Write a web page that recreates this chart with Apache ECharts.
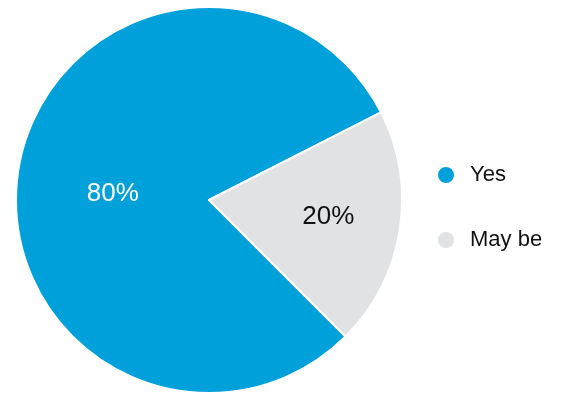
<!DOCTYPE html>
<html>
<head>
<meta charset="utf-8">
<script src="https://cdn.jsdelivr.net/npm/echarts@6/dist/echarts.min.js"></script>
<style>
html,body{margin:0;padding:0;background:#fff;}
#chart{width:561px;height:404px;}
</style>
</head>
<body>
<div id="chart"></div>
<script>
const categories = ['Yes', 'May be'];
const values = [80, 20];
const colors = ['#00a0da', '#e1e2e3'];
const labelColors = ['#ffffff', '#111111'];
const labelOffsets = [[2, 9], [21, 1]];

const chart = echarts.init(document.getElementById('chart'), null, {renderer: 'canvas'});
const data = categories.map((name, i) => ({
  name: name,
  value: values[i],
  itemStyle: {color: colors[i]},
  label: {color: labelColors[i], offset: labelOffsets[i]}
}));

chart.setOption({
  animation: false,
  backgroundColor: '#ffffff',
  legend: {
    orient: 'vertical',
    left: 436,
    top: 164,
    padding: 0,
    icon: 'circle',
    itemWidth: 18,
    itemHeight: 18,
    itemGap: 43,
    selectedMode: false,
    textStyle: {
      fontFamily: 'Liberation Sans, Arial, sans-serif',
      fontSize: 22,
      lineHeight: 22,
      color: '#111111',
      padding: [0, 0, 0, 10]
    },
    data: categories
  },
  series: [{
    type: 'pie',
    center: [209, 200],
    radius: 193,
    startAngle: 315,
    clockwise: true,
    avoidLabelOverlap: false,
    itemStyle: {borderColor: '#ffffff', borderWidth: 2},
    label: {
      show: true,
      position: 'inside',
      formatter: '{d}%',
      fontFamily: 'Liberation Sans, Arial, sans-serif',
      fontSize: 26
    },
    labelLine: {show: false},
    emphasis: {disabled: true},
    data: data
  }]
});
</script>
</body>
</html>
